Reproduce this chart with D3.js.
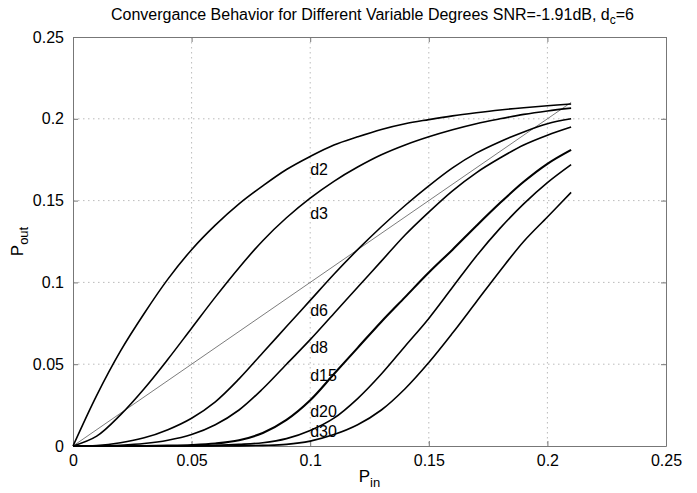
<!DOCTYPE html>
<html><head><meta charset="utf-8">
<script src="https://cdn.jsdelivr.net/npm/d3@7/dist/d3.min.js"></script>
<style>
body{margin:0;background:#fff;}
text{font-family:"Liberation Sans",Arial,Helvetica,sans-serif;fill:#000;}
</style></head>
<body>
<svg id="chart" width="697" height="493"></svg>
<script>
const pin = [0,0.01,0.02,0.03,0.04,0.05,0.06,0.07,0.08,0.09,0.10,0.11,0.12,0.13,0.14,0.15,0.16,0.17,0.18,0.19,0.20,0.21];
const deg2  = [0,0.031,0.058,0.081,0.102,0.120,0.135,0.148,0.159,0.169,0.177,0.184,0.189,0.1935,0.197,0.1995,0.2018,0.2037,0.2054,0.2068,0.208,0.209];
const deg3  = [0,0.006,0.019,0.035,0.053,0.072,0.091,0.109,0.1255,0.1395,0.1515,0.1618,0.1705,0.178,0.184,0.189,0.1933,0.197,0.2,0.2027,0.2048,0.2065];
const deg6  = [0,0.0003,0.002,0.005,0.010,0.017,0.027,0.041,0.057,0.073,0.089,0.105,0.120,0.134,0.147,0.159,0.170,0.179,0.186,0.192,0.197,0.200];
const deg8  = [0,0,0.0005,0.0015,0.0035,0.007,0.013,0.022,0.035,0.050,0.065,0.081,0.097,0.113,0.129,0.143,0.156,0.167,0.176,0.184,0.190,0.195];
const deg15 = [0,0,0,0,0.0002,0.0006,0.0015,0.0035,0.008,0.016,0.028,0.044,0.060,0.076,0.091,0.106,0.120,0.1345,0.1485,0.1615,0.1725,0.181];
const deg20 = [0,0,0,0,0,0.0001,0.0004,0.001,0.002,0.0045,0.0095,0.017,0.029,0.044,0.061,0.078,0.097,0.116,0.133,0.148,0.161,0.172];
const deg30 = [0,0,0,0,0,0,0,0.0001,0.0004,0.001,0.003,0.007,0.013,0.022,0.035,0.051,0.069,0.088,0.107,0.125,0.140,0.155];
const diag = [0,0.21];
const seriesNames = ["d2","d3","d6","d8","d15","d20","d30"];
const seriesData = [deg2,deg3,deg6,deg8,deg15,deg20,deg30];
const labelX = [0.1,0.1,0.1,0.1,0.1,0.1,0.1];
const labelY = [0.169,0.142,0.083,0.060,0.043,0.021,0.009];
const xTicks = [0,0.05,0.1,0.15,0.2,0.25];
const yTicks = [0,0.05,0.1,0.15,0.2,0.25];
const xTickLabels = ["0","0.05","0.1","0.15","0.2","0.25"];
const yTickLabels = ["0","0.05","0.1","0.15","0.2","0.25"];

const svg = d3.select("#chart");
const L=73, R=666, T=37, B=446;
const x = d3.scaleLinear().domain([0,0.25]).range([L,R]);
const y = d3.scaleLinear().domain([0,0.25]).range([B,T]);

// grid
const g = svg.append("g");
xTicks.slice(1,-1).forEach(t=>{
  g.append("line").attr("x1",x(t)).attr("x2",x(t)).attr("y1",T).attr("y2",B)
   .attr("stroke","#aaa").attr("stroke-width",0.8).attr("stroke-dasharray","1.5,3.5");
});
yTicks.slice(1,-1).forEach(t=>{
  g.append("line").attr("y1",y(t)).attr("y2",y(t)).attr("x1",L).attr("x2",R)
   .attr("stroke","#aaa").attr("stroke-width",0.8).attr("stroke-dasharray","1.5,3.5");
});

// axes with inward ticks
const axB = d3.axisBottom(x).tickValues(xTicks).tickFormat((d,i)=>xTickLabels[i]).tickSizeInner(-5).tickSizeOuter(0).tickPadding(9);
const axL = d3.axisLeft(y).tickValues(yTicks).tickFormat((d,i)=>yTickLabels[i]).tickSizeInner(-5).tickSizeOuter(0).tickPadding(9);
const axT = d3.axisTop(x).tickValues(xTicks).tickFormat("").tickSizeInner(-5).tickSizeOuter(0);
const axR = d3.axisRight(y).tickValues(yTicks).tickFormat("").tickSizeInner(-5).tickSizeOuter(0);
[[axB,`translate(0,${B})`],[axL,`translate(${L},0)`],[axT,`translate(0,${T})`],[axR,`translate(${R},0)`]].forEach(([a,tr])=>{
  const gg = svg.append("g").attr("transform",tr).call(a);
  gg.select(".domain").attr("stroke","#777").attr("stroke-width",1);
  gg.selectAll(".tick line").attr("stroke","#777");
  gg.selectAll(".tick text").attr("font-size","16px").attr("font-family","Liberation Sans, Arial, sans-serif").attr("fill","#000");
});

// diagonal
const line = d3.line().x(d=>x(d[0])).y(d=>y(d[1]));
svg.append("path").datum(diag.map(v=>[v,v])).attr("d",line)
  .attr("fill","none").attr("stroke","#444").attr("stroke-width",0.7);

// curves
const smooth = d3.line().x(d=>x(d[0])).y(d=>y(d[1])).curve(d3.curveCatmullRom.alpha(0.5));
seriesData.forEach((s,k)=>{
  svg.append("path").datum(s.map((v,i)=>[pin[i],v])).attr("d",smooth)
   .attr("fill","none").attr("stroke","#000")
   .attr("stroke-width", seriesNames[k]==="d15"?2.1:1.6).attr("stroke-linejoin","round");
});

// labels
seriesNames.forEach((n,k)=>{
  svg.append("text").attr("x",x(labelX[k])).attr("y",y(labelY[k])).attr("dy","0.35em")
   .attr("font-size","16px").text(n);
});

// title
const title = svg.append("text").attr("x",(L+R)/2 + 3).attr("y",20).attr("text-anchor","middle").attr("font-size","16px");
title.append("tspan").text("Convergance Behavior for Different Variable Degrees SNR=-1.91dB, d");
title.append("tspan").attr("font-size","12px").attr("dy",4).text("c");
title.append("tspan").attr("dy",-4).text("=6");

// x label
const xl = svg.append("text").attr("x",(L+R)/2).attr("y",482).attr("text-anchor","middle").attr("font-size","17px");
xl.append("tspan").text("P");
xl.append("tspan").attr("font-size","13px").attr("dy",5).text("in");

// y label
const yl = svg.append("text").attr("transform",`translate(23,${(T+B)/2}) rotate(-90)`).attr("text-anchor","middle").attr("font-size","17px");
yl.append("tspan").text("P");
yl.append("tspan").attr("font-size","13px").attr("dy",5).text("out");
</script>
</body></html>
